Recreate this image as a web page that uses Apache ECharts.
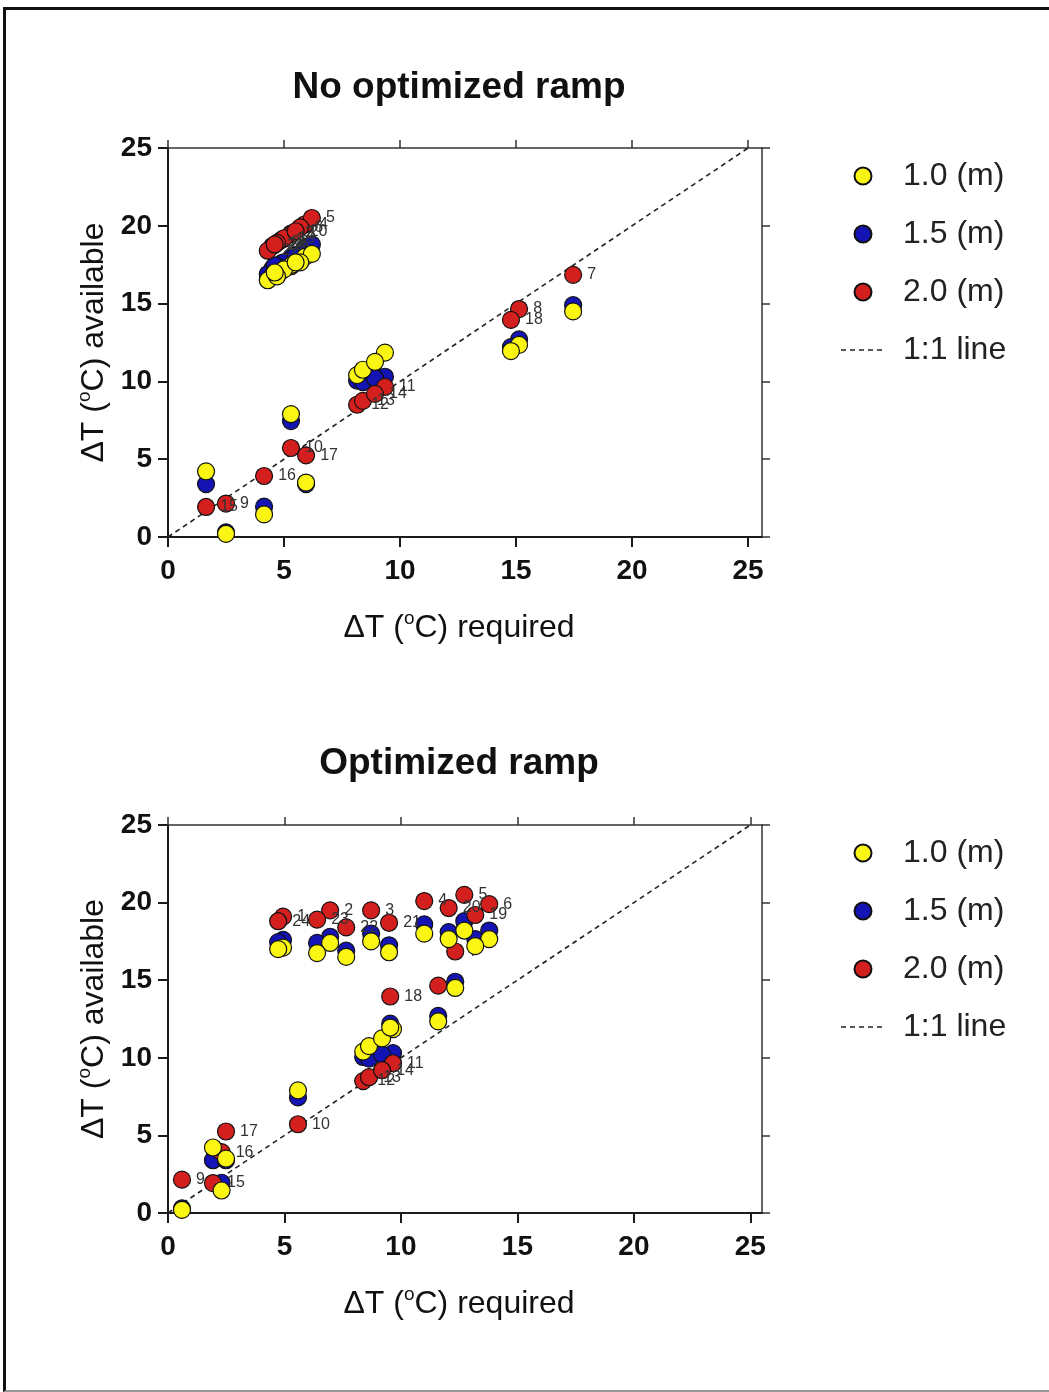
<!DOCTYPE html>
<html><head><meta charset="utf-8">
<script src="https://cdn.jsdelivr.net/npm/echarts@6/dist/echarts.min.js"></script>
<style>
html,body{margin:0;padding:0;background:#fff;}
#frame{position:absolute;left:3px;top:7px;width:1100px;height:1380px;border-left:3px solid #111;border-top:3px solid #111;border-bottom:2px solid #999;}
#chart{position:absolute;left:0;top:0;width:1049px;height:1392px;}
</style></head><body>
<div id="frame"></div><div id="chart"></div>
<script>
// Site identifiers (labels next to 2.0 m points)
const siteIds = [1,2,3,4,5,6,7,8,9,10,11,12,13,14,15,16,17,18,19,20,21,22,23,24];
// ΔT required, no optimized ramp (top chart)
const reqNoRamp  = [4.9,5.3,5.35,5.9,6.2,5.7,17.46,15.13,2.5,5.3,9.35,8.15,8.4,8.92,1.64,4.14,5.95,14.78,5.0,5.5,4.5,4.3,4.7,4.6];
// ΔT required, optimized ramp (bottom chart)
const reqOptRamp = [4.94,6.96,8.72,11.0,12.72,13.79,12.33,11.6,0.6,5.58,9.66,8.38,8.63,9.19,1.93,2.3,2.49,9.54,13.19,12.05,9.49,7.65,6.4,4.73];
// ΔT available per depth
const avail10 = [17.1,17.4,17.5,18.0,18.2,17.65,14.5,12.35,0.2,7.9,11.85,10.4,10.75,11.25,4.22,1.45,3.5,11.95,17.2,17.65,16.8,16.5,16.75,17.0];
const avail15 = [17.6,17.8,18.0,18.6,18.8,18.2,14.9,12.7,0.3,7.45,10.3,10.05,9.95,10.2,3.4,1.95,3.4,12.2,17.65,18.1,17.25,16.9,17.4,17.45];
const avail20 = [19.1,19.5,19.5,20.1,20.5,19.9,16.85,14.65,2.15,5.72,9.65,8.5,8.75,9.2,1.93,3.92,5.25,13.95,19.2,19.65,18.7,18.4,18.9,18.8];
const oneToOne = [[0,0],[25,25]];
const axisTicks = [0,5,10,15,20,25];
const titles = ['No optimized ramp','Optimized ramp'];
const seriesNames = ['1.0 (m)','1.5 (m)','2.0 (m)','1:1 line'];

const FONT = "'Liberation Sans', Arial, sans-serif";
const NFONT = "'Liberation Sans Narrow', 'Liberation Sans', Arial, sans-serif";
const colors = {y:'#fbf514', b:'#1414b4', r:'#d41f1f'};
// dashed-line legend glyph (box 44 x 17, tiny corner specks fix the box)
const dashIcon = 'path://M0,0L0.01,0L0.01,0.01Z M43.99,16.99L44,16.99L44,17Z ' +
  'M0,7.7h5v1.6h-5z M9,7.7h5v1.6h-5z M18,7.7h5v1.6h-5z M27,7.7h5v1.6h-5z M36,7.7h5v1.6h-5z';

const layouts = [
  {top:148, height:389, xmax:25.6, titleTop:64, legendTop:154},
  {top:825, height:388, xmax:25.5, titleTop:740, legendTop:831}
];
const reqs = [reqNoRamp, reqOptRamp];

const richName = {
  a:{fontSize:32, fontFamily:FONT, color:'#111', lineHeight:38},
  s:{fontSize:19, fontFamily:FONT, color:'#111', verticalAlign:'top', lineHeight:19}
};

const grid=[], xAxis=[], yAxis=[], series=[], title=[], legend=[];
layouts.forEach((L,gi)=>{
  grid.push({left:168, top:L.top, width:594, height:L.height, outerBoundsMode:'none', containLabel:false});
  title.push({text:titles[gi], left:454, top:L.titleTop, textAlign:'center',
    textStyle:{fontSize:37, fontWeight:'bold', color:'#111', fontFamily:FONT}});
  legend.push({orient:'vertical', left:836, top:L.legendTop, itemWidth:44, itemHeight:17, itemGap:24,
    data:[{name:'1.0 (m)'},{name:'1.5 (m)'},{name:'2.0 (m)'},{name:'1:1 line', icon:dashIcon}],
    selectedMode:false,
    textStyle:{fontSize:32, fontFamily:FONT, color:'#222', lineHeight:34, padding:[0,0,0,13]}});
  const lineMain = {show:true, onZero:false, lineStyle:{color:'#1a1a1a', width:2}};
  const lineFrame = {show:true, onZero:false, lineStyle:{color:'#333', width:1.5}};
  xAxis.push({type:'value', gridIndex:gi, min:0, max:L.xmax, interval:5, position:'bottom',
    axisLine:lineMain,
    axisTick:{show:true, length:10, customValues:axisTicks, lineStyle:{color:'#1a1a1a', width:2}},
    axisLabel:{customValues:axisTicks, fontSize:28, fontWeight:'bold', color:'#111', margin:20, fontFamily:NFONT},
    splitLine:{show:false},
    name:'{a|ΔT (}{s|o}{a|C) required}', nameLocation:'middle', nameGap:72,
    nameTextStyle:{rich:richName, padding:[0,12,0,0]}});
  xAxis.push({type:'value', gridIndex:gi, min:0, max:L.xmax, interval:5, position:'top',
    axisLine:lineFrame,
    axisTick:{show:true, length:8, customValues:axisTicks, lineStyle:{color:'#333', width:1.5}},
    axisLabel:{show:false}, splitLine:{show:false}});
  yAxis.push({type:'value', gridIndex:gi, min:0, max:25, interval:5, position:'left',
    axisLine:lineMain,
    axisTick:{show:true, length:10, lineStyle:{color:'#1a1a1a', width:2}},
    axisLabel:{fontSize:28, fontWeight:'bold', color:'#111', margin:16, fontFamily:NFONT},
    splitLine:{show:false},
    name:'{a|ΔT (}{s|o}{a|C) available}', nameLocation:'middle', nameGap:55,
    nameTextStyle:{rich:richName}});
  yAxis.push({type:'value', gridIndex:gi, min:0, max:25, interval:5, position:'right',
    axisLine:lineFrame,
    axisTick:{show:true, length:8, lineStyle:{color:'#333', width:1.5}},
    axisLabel:{show:false}, splitLine:{show:false}});

  const xi = gi*2, yi = gi*2;
  const req = reqs[gi];
  const mk = arr => siteIds.map((id,i)=>({name:String(id), value:[req[i], arr[i]]}));
  const base = {type:'scatter', xAxisIndex:xi, yAxisIndex:yi, symbol:'circle', symbolSize:17, silent:true};
  series.push({type:'line', name:'1:1 line', xAxisIndex:xi, yAxisIndex:yi, data:oneToOne, symbol:'none',
    silent:true, lineStyle:{color:'#222', width:1.6, type:[5,4]}, itemStyle:{color:'#222'}, z:1});
  series.push(Object.assign({}, base, {name:'1.5 (m)', data:mk(avail15),
    itemStyle:{color:colors.b, borderColor:'#111', borderWidth:1.2, opacity:1}, z:2}));
  series.push(Object.assign({}, base, {name:'2.0 (m)', data:mk(avail20),
    itemStyle:{color:colors.r, borderColor:'#111', borderWidth:1.2, opacity:1}, z:3,
    label:{show:true, position:'right', distance:5, formatter:p=>p.name, fontSize:16, color:'#333', fontFamily:FONT}}));
  series.push(Object.assign({}, base, {name:'1.0 (m)', data:mk(avail10),
    itemStyle:{color:colors.y, borderColor:'#111', borderWidth:1.2, opacity:1}, z:4}));
});

const chart = echarts.init(document.getElementById('chart'), null, {renderer:'canvas'});
chart.setOption({animation:false, backgroundColor:'transparent', title, legend, grid, xAxis, yAxis, series});
</script>
</body></html>
